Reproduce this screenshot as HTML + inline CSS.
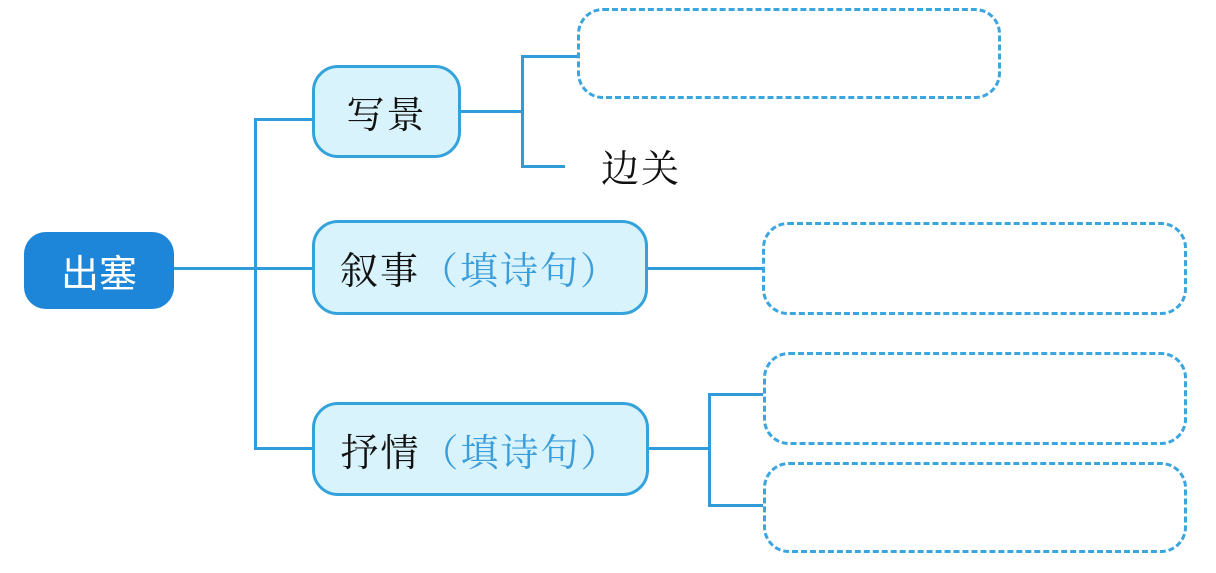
<!DOCTYPE html>
<html><head><meta charset="utf-8"><style>
body{margin:0;background:#fff;width:1216px;height:573px;overflow:hidden;position:relative;font-family:"Liberation Serif","Noto Serif CJK SC",serif}
.b{position:absolute;box-sizing:border-box}
.n{background:#d8f3fb;border:3px solid #34a3dc;border-radius:26px;display:flex;align-items:center;justify-content:center;font-size:38px;color:#111;letter-spacing:2px}
.d{border:3px dashed #3aa5de;border-radius:26px}
.l{position:absolute;background:#2f9bd8}
.c{color:#3b9edb}
</style></head><body>
<div class="l" style="left:173px;top:267px;width:139px;height:2.5px"></div>
<div class="l" style="left:254px;top:118px;width:2.5px;height:331px"></div>
<div class="l" style="left:254px;top:118px;width:58px;height:2.5px"></div>
<div class="l" style="left:254px;top:447px;width:58px;height:2.5px"></div>
<div class="l" style="left:460px;top:110px;width:62px;height:2.5px"></div>
<div class="l" style="left:521px;top:55px;width:2.5px;height:112px"></div>
<div class="l" style="left:521px;top:55px;width:57px;height:2.5px"></div>
<div class="l" style="left:521px;top:165px;width:44px;height:2.5px"></div>
<div class="l" style="left:647px;top:267px;width:115px;height:2.5px"></div>
<div class="l" style="left:648px;top:447px;width:62px;height:2.5px"></div>
<div class="l" style="left:708px;top:393px;width:2.5px;height:113px"></div>
<div class="l" style="left:708px;top:393px;width:55px;height:2.5px"></div>
<div class="l" style="left:708px;top:504px;width:55px;height:2.5px"></div>

<div class="b" style="left:24px;top:232px;width:150px;height:77px;background:#1e86d8;border-radius:22px;color:#fff;font-family:'Liberation Sans','Noto Sans CJK SC',sans-serif;font-size:38px;display:flex;align-items:center;justify-content:center">出塞</div>
<div class="b n" style="left:312px;top:65px;width:149px;height:93px">写景</div>
<div class="b n" style="left:312px;top:220px;width:336px;height:95px">叙事<span class="c">（填诗句）</span></div>
<div class="b n" style="left:312px;top:402px;width:337px;height:94px">抒情<span class="c">（填诗句）</span></div>
<div class="b" style="left:601px;top:138px;font-size:38px;color:#111;letter-spacing:2px">边关</div>

<div class="b d" style="left:577px;top:8px;width:424px;height:91px"></div>
<div class="b d" style="left:762px;top:222px;width:425px;height:93px"></div>
<div class="b d" style="left:763px;top:352px;width:424px;height:93px"></div>
<div class="b d" style="left:763px;top:462px;width:424px;height:91px"></div>
</body></html>
